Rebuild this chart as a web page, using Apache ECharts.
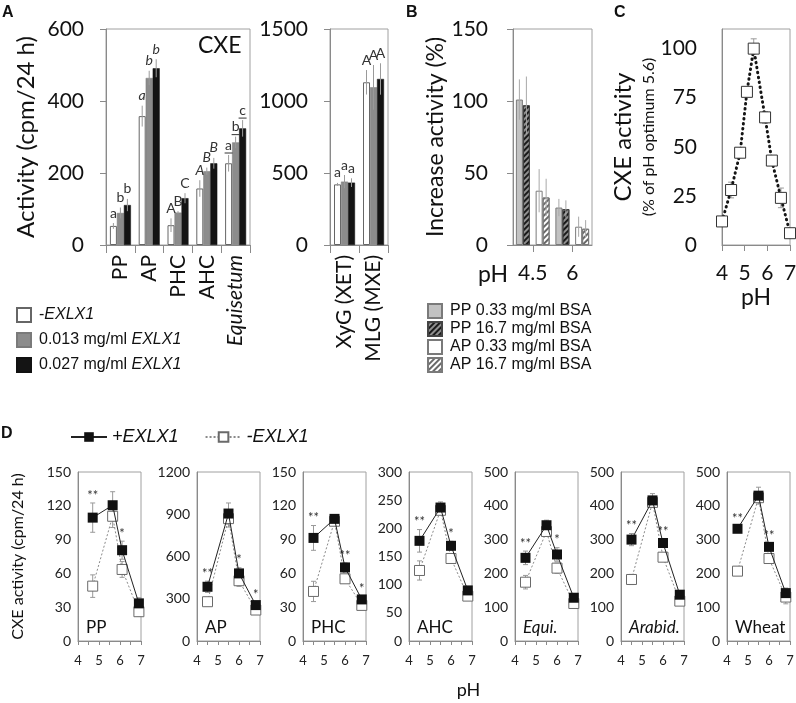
<!DOCTYPE html>
<html><head><meta charset="utf-8">
<script src="https://cdn.jsdelivr.net/npm/echarts@6/dist/echarts.min.js"></script>
<style>html,body{margin:0;padding:0;background:#fff}#c{width:796px;height:703px}</style>
</head><body><div id="c"></div>
<script>
// ---------------- DATA ----------------
// Panel A (left: CXE substrates, right: XET / MXE)
const aCats = ['PP', 'AP', 'PHC', 'AHC', 'Equisetum'];
const aCats2 = ['XyG (XET)', 'MLG (MXE)'];
const aNames = ['-EXLX1', '0.013 mg/ml EXLX1', '0.027 mg/ml EXLX1'];
const aNone = [53, 358, 55, 157, 227];
const aLow = [89, 464, 90, 205, 285];
const aHigh = [111, 491, 130, 227, 324];
const aNoneErr = [8, 29, 19, 23, 23];
const aLowErr = [15, 20, 4, 10, 16];
const aHighErr = [17, 25, 14, 15, 23];
const aNoneLet = ['a', 'a', 'A', 'A', 'a'];
const aLowLet = ['b', 'b', 'B', 'B', 'b'];
const aHighLet = ['b', 'b', 'C', 'B', 'c'];
const aLetStyle = ['normal', 'italic', 'normal', 'italic', 'underline'];
const a2None = [421, 1130];
const a2Low = [440, 1095];
const a2High = [433, 1153];
const a2NoneErr = [10, 85];
const a2LowErr = [46, 155];
const a2HighErr = [30, 109];
const a2NoneLet = ['a', 'A'];
const a2LowLet = ['a', 'A'];
const a2HighLet = ['a', 'A'];

// Panel B
const bNames = ['PP 0.33 mg/ml BSA', 'PP 16.7 mg/ml BSA', 'AP 0.33 mg/ml BSA', 'AP 16.7 mg/ml BSA'];
const bSlots = ['PP 4.5', 'AP 4.5', 'PP 6', 'AP 6'];
const bTickPos = [1, 3];
const bTickLabels = ['4.5', '6'];
const bPP033 = [101, 26];
const bPP167 = [97, 25];
const bAP033 = [37.7, 12.7];
const bAP167 = [33, 11.3];
const bPP033Err = [14, 6];
const bPP167Err = [20, 6];
const bAP033Err = [15, 7];
const bAP167Err = [13, 6];

// Panel C
const cPH = [4.0, 4.4, 4.8, 5.1, 5.4, 5.9, 6.2, 6.6, 7.0];
const cAct = [12, 28, 47, 78, 100, 65, 43, 24, 6];
const cErr = [1, 4, 1, 1, 5, 3, 1, 5, 1];

// Panel D
const dNames = ['PP', 'AP', 'PHC', 'AHC', 'Equi.', 'Arabid.', 'Wheat'];
const dItalic = [false, false, false, false, true, true, false];
const dYMax = [150, 1200, 150, 300, 500, 500, 500];
const dYStep = [30, 300, 30, 50, 100, 100, 100];
const dPH_PP = [4.7, 5.65, 6.1, 6.9];
const dPH = [4.5, 5.5, 6.0, 6.8];
const dPlus = [
  [109.5, 120.5, 80.6, 33.4],
  [385, 905, 480, 255],
  [91.5, 108.4, 65.3, 36.9],
  [177.8, 236.9, 169, 89.8],
  [246, 342.5, 256, 128],
  [300, 416, 290, 137],
  [332, 430, 278.5, 141.7]
];
const dPlusErr = [
  [13, 12, 8, 5], [40, 75, 40, 20], [11, 3, 4, 3], [20, 10, 8, 6],
  [20, 15, 20, 10], [18, 20, 10, 10], [8, 25, 10, 15]
];
const dMinus = [
  [48.7, 110.7, 63.5, 26],
  [279, 869, 428, 220],
  [44, 106.3, 55.2, 31.6],
  [125.2, 232, 146.5, 79.7],
  [174, 324, 215.6, 111],
  [182, 410, 248, 118],
  [206.7, 424, 244, 130]
];
const dMinusErr = [
  [10, 10, 7, 4], [30, 60, 40, 15], [9, 3, 3, 3], [17, 5, 8, 6],
  [20, 10, 15, 10], [15, 10, 10, 10], [8, 15, 10, 20]
];
const dSig = [
  ['**', '', '*', ''], ['**', '', '*', '*'], ['**', '', '**', '*'], ['**', '', '*', ''],
  ['**', '', '*', ''], ['**', '', '**', ''], ['**', '', '**', '']
];

// ---------------- LAYOUT / STYLE ----------------
const F = 'Lato, "Open Sans", "DejaVu Sans", sans-serif';
const AR = '"Liberation Sans", Arial, sans-serif';
const AX = '#8a8a8a';
const dLeft = [78, 197, 303, 409, 515, 621, 727];
const plain = v => String(v);

const grids = [
  {left: 106, top: 29, width: 144, height: 216},
  {left: 330, top: 29, width: 58, height: 216},
  {left: 513, top: 29, width: 79, height: 216},
  {left: 722, top: 29, width: 68, height: 216}
].concat(dLeft.map(l => ({left: l, top: 472, width: 63, height: 169})))
 .map(g => Object.assign({show: true, borderColor: '#a0a0a0', borderWidth: 1, backgroundColor: 'transparent', outerBoundsMode: 'none', containLabel: false}, g));

const axLine = {show: true, lineStyle: {color: AX, width: 1}};
const bigLabel = {fontSize: 21, fontFamily: F, color: '#111'};

function yAx(gi, min, max, interval, extra) {
  return Object.assign({
    gridIndex: gi, type: 'value', min, max, interval,
    axisLine: axLine,
    axisTick: {show: true, length: 6, lineStyle: {color: AX}},
    splitLine: {show: false},
    axisLabel: Object.assign({margin: 22, formatter: plain}, bigLabel)
  }, extra || {});
}

function errSeries(o) {
  const data = o.xs.map((x, i) => [x, o.ys[i], o.es[i]]);
  return {
    type: 'custom', xAxisIndex: o.x, yAxisIndex: o.y, z: o.z || 6, silent: true,
    data, encode: {x: 0, y: 1},
    renderItem(params, api) {
      const i = params.dataIndex;
      const xv = api.value(0), yv = api.value(1), ev = api.value(2);
      const top = api.coord([xv, yv + ev]);
      const bot = api.coord([xv, Math.max(0, yv - ev)]);
      const cx = top[0] + (o.dx || 0);
      const ch = [{type: 'line', shape: {x1: cx, y1: top[1], x2: cx, y2: bot[1]},
        style: {stroke: o.color || '#999', lineWidth: 1}}];
      if (o.cap) {
        ch.push({type: 'line', shape: {x1: cx - o.cap, y1: top[1], x2: cx + o.cap, y2: top[1]}, style: {stroke: o.color || '#999', lineWidth: 1}});
        ch.push({type: 'line', shape: {x1: cx - o.cap, y1: bot[1], x2: cx + o.cap, y2: bot[1]}, style: {stroke: o.color || '#999', lineWidth: 1}});
      }
      if (o.texts && o.texts[i]) {
        const st = o.styles ? o.styles[i] : 'normal';
        const ty = top[1] - (o.tgap || 2);
        ch.push({type: 'text', style: {
          text: o.texts[i], x: cx, y: ty, align: 'center', verticalAlign: 'bottom',
          fontSize: o.fs || 14, fontFamily: F, fontStyle: st === 'italic' ? 'italic' : 'normal',
          fill: '#333'}});
        if (st === 'underline') {
          ch.push({type: 'line', shape: {x1: cx - 4, y1: ty + 1, x2: cx + 4, y2: ty + 1}, style: {stroke: '#333', lineWidth: 1}});
        }
      }
      return {type: 'group', children: ch};
    }
  };
}

// ---------------- AXES ----------------
const xAxis = [
  {gridIndex: 0, type: 'category', data: aCats, axisLine: axLine,
   axisTick: {show: true, length: 8, interval: 0, lineStyle: {color: AX}},
   axisLabel: Object.assign({interval: 0, rotate: 90, margin: 10,
     formatter: v => v === 'Equisetum' ? '{i|' + v + '}' : v,
     rich: {i: {fontStyle: 'italic', fontSize: 21, fontFamily: F, color: '#111'}}}, bigLabel),
   splitLine: {show: false}},
  {gridIndex: 1, type: 'category', data: aCats2, axisLine: axLine,
   axisTick: {show: true, length: 8, interval: 0, lineStyle: {color: AX}},
   axisLabel: Object.assign({interval: 0, rotate: 90, margin: 10}, bigLabel),
   splitLine: {show: false}},
  {gridIndex: 2, type: 'category', data: bSlots, axisLine: axLine,
   axisTick: {show: false}, axisLabel: {show: false}, splitLine: {show: false}},
  {gridIndex: 2, type: 'value', min: 0, max: 4, interval: 1, position: 'bottom',
   axisLine: {show: false},
   axisTick: {show: true, length: 7, customValues: bTickPos, lineStyle: {color: AX}},
   axisLabel: Object.assign({customValues: bTickPos, margin: 18,
     formatter: v => {const k = bTickPos.indexOf(v); return k >= 0 ? bTickLabels[k] : '';}}, bigLabel),
   splitLine: {show: false},
   name: 'pH', nameLocation: 'start', nameGap: 5, nameMoveOverlap: false,
   nameTextStyle: {fontSize: 23, fontFamily: F, color: '#111', align: 'right', verticalAlign: 'top', lineHeight: 60}},
  {gridIndex: 3, type: 'value', min: 4, max: 7, interval: 1, axisLine: axLine,
   axisTick: {show: true, length: 6, lineStyle: {color: AX}},
   axisLabel: Object.assign({margin: 18, formatter: plain}, bigLabel), splitLine: {show: false},
   name: 'pH', nameLocation: 'middle', nameGap: 41,
   nameTextStyle: {fontSize: 23, fontFamily: F, color: '#111'}}
].concat(dLeft.map((l, i) => Object.assign({
  gridIndex: 4 + i, type: 'value', min: 4, max: 7, interval: 0.5, axisLine: axLine,
  axisTick: {show: true, length: 4, lineStyle: {color: AX}},
  axisLabel: {margin: 13, fontSize: 13, fontFamily: F, color: '#222',
    formatter: v => Number.isInteger(v) ? String(v) : ''},
  splitLine: {show: false}
}, i === 3 ? {name: 'pH', nameLocation: 'middle', nameGap: 40,
  nameTextStyle: {fontSize: 18, fontFamily: F, color: '#111', padding: [0, 0, 0, 56]}} : {})));

const yAxis = [
  yAx(0, 0, 600, 200, {name: 'Activity (cpm/24 h)', nameLocation: 'middle', nameGap: 68,
    nameTextStyle: {fontSize: 24, fontFamily: F, color: '#111'}}),
  yAx(1, 0, 1500, 500),
  yAx(2, 0, 150, 50, {name: 'Increase activity (%)', nameLocation: 'middle', nameGap: 66,
    nameTextStyle: {fontSize: 23, fontFamily: F, color: '#111'}, axisLabel: Object.assign({margin: 25, formatter: plain}, bigLabel)}),
  yAx(3, 0, 110, 25, {
    axisLabel: Object.assign({margin: 25, formatter: v => v <= 100 ? String(v) : ''}, bigLabel),
    axisTick: {show: false},
    name: '{a|CXE activity}\n{b|(% of pH optimum 5.6)}', nameLocation: 'middle', nameGap: 62,
    nameTextStyle: {rich: {
      a: {fontSize: 24, fontFamily: F, color: '#111', lineHeight: 28, align: 'center'},
      b: {fontSize: 16, fontFamily: F, color: '#111', lineHeight: 22, align: 'center'}}}})
].concat(dLeft.map((l, i) => yAx(4 + i, 0, dYMax[i], dYStep[i], Object.assign({
  axisTick: {show: false},
  axisLabel: {margin: 7, fontSize: 14, fontFamily: F, color: '#222', formatter: plain}
}, i === 0 ? {name: 'CXE activity (cpm/24 h)', nameLocation: 'middle', nameGap: 52,
  nameTextStyle: {fontSize: 16, fontFamily: F, color: '#111'}} : {}))));

// ---------------- SERIES ----------------
const series = [];
const aFill = ['#ffffff', '#8c8c8c', '#141414'];
const aBorder = ['#666666', '#7a7a7a', '#111111'];
const aV = [aNone, aLow, aHigh], aE = [aNoneErr, aLowErr, aHighErr], aL = [aNoneLet, aLowLet, aHighLet];
const a2V = [a2None, a2Low, a2High], a2E = [a2NoneErr, a2LowErr, a2HighErr], a2L = [a2NoneLet, a2LowLet, a2HighLet];
for (let k = 0; k < 3; k++) {
  const st = {color: aFill[k], borderColor: aBorder[k], borderWidth: k === 0 ? 1 : 0.5};
  series.push({type: 'bar', name: aNames[k], xAxisIndex: 0, yAxisIndex: 0, data: aV[k], barWidth: 7, barGap: '0%', itemStyle: st});
  series.push({type: 'bar', name: aNames[k], xAxisIndex: 1, yAxisIndex: 1, data: a2V[k], barWidth: 7, barGap: '0%', itemStyle: st});
  series.push(errSeries({x: 0, y: 0, xs: aCats.map((c, i) => i), ys: aV[k], es: aE[k], dx: (k - 1) * 7,
    color: '#9a9a9a', texts: aL[k], styles: aLetStyle, tgap: 3}));
  series.push(errSeries({x: 1, y: 1, xs: aCats2.map((c, i) => i), ys: a2V[k], es: a2E[k], dx: (k - 1) * 7,
    color: '#9a9a9a', texts: a2L[k], styles: ['normal', 'normal'], tgap: 3}));
}

// B
const hatchDark = {symbol: 'rect', symbolSize: 1, dashArrayX: [1, 0], dashArrayY: [1.2, 2], rotation: -Math.PI / 4, color: '#1a1a1a'};
const hatchLight = {symbol: 'rect', symbolSize: 1, dashArrayX: [1, 0], dashArrayY: [1.2, 2], rotation: -Math.PI / 4, color: '#6a6a6a'};
const bSpec = [
  {vals: bPP033, err: bPP033Err, parity: 0, stack: 'L', style: {color: '#c2c2c2', borderColor: '#7a7a7a', borderWidth: 1}},
  {vals: bPP167, err: bPP167Err, parity: 0, stack: 'R', style: {color: '#8f8f8f', borderColor: '#444', borderWidth: 1, decal: hatchDark}},
  {vals: bAP033, err: bAP033Err, parity: 1, stack: 'L', style: {color: '#ffffff', borderColor: '#7a7a7a', borderWidth: 1}},
  {vals: bAP167, err: bAP167Err, parity: 1, stack: 'R', style: {color: '#ffffff', borderColor: '#7a7a7a', borderWidth: 1, decal: hatchLight}}
];
bSpec.forEach((s, k) => {
  const data = bSlots.map((_, i) => (i % 2 === s.parity) ? s.vals[i >> 1] : '-');
  series.push({type: 'bar', name: bNames[k], xAxisIndex: 2, yAxisIndex: 2, stack: s.stack, data,
    barWidth: 7, barGap: '0%', itemStyle: s.style});
  series.push(errSeries({x: 2, y: 2, xs: s.vals.map((v, j) => j * 2 + s.parity), ys: s.vals, es: s.err,
    dx: s.stack === 'L' ? -3.5 : 3.5, color: '#a8a8a8'}));
});

// C
series.push({type: 'line', name: 'CXE pH profile', xAxisIndex: 4, yAxisIndex: 3,
  data: cPH.map((x, i) => [x, cAct[i]]), symbol: 'rect', symbolSize: 11, z: 4,
  itemStyle: {color: '#ffffff', borderColor: '#333', borderWidth: 1},
  lineStyle: {color: '#151515', width: 3, type: [0.5, 4.5], cap: 'round'}});
series.push(errSeries({x: 4, y: 3, xs: cPH, ys: cAct, es: cErr, cap: 3, color: '#999', z: 3}));

// D
for (let i = 0; i < 7; i++) {
  const xs = i === 0 ? dPH_PP : dPH;
  series.push(errSeries({x: 5 + i, y: 4 + i, xs, ys: dMinus[i], es: dMinusErr[i], cap: 2.5, color: '#999', z: 2}));
  series.push(errSeries({x: 5 + i, y: 4 + i, xs, ys: dPlus[i], es: dPlusErr[i], cap: 2.5, color: '#999', z: 2,
    texts: dSig[i], fs: 13, tgap: 1}));
  series.push({type: 'line', name: '-EXLX1 (D)', xAxisIndex: 5 + i, yAxisIndex: 4 + i,
    data: xs.map((x, j) => [x, dMinus[i][j]]), symbol: 'rect', symbolSize: 10, z: 3,
    itemStyle: {color: '#ffffff', borderColor: '#6a6a6a', borderWidth: 1},
    lineStyle: {color: '#8a8a8a', width: 1, type: [2, 2]}});
  series.push({type: 'line', name: '+EXLX1 (D)', xAxisIndex: 5 + i, yAxisIndex: 4 + i,
    data: xs.map((x, j) => [x, dPlus[i][j]]), symbol: 'rect', symbolSize: 10, z: 4,
    itemStyle: {color: '#111111'}, lineStyle: {color: '#222', width: 1}});
}

// ---------------- TITLES / LEGENDS ----------------
const panelLetter = (t, l, tp) => ({text: t, left: l, top: tp, padding: 0,
  textStyle: {fontSize: 16, fontWeight: 'bold', fontFamily: AR, color: '#111'}});
const title = [
  panelLetter('A', 2, 5), panelLetter('B', 406, 5), panelLetter('C', 614, 5), panelLetter('D', 1, 426),
  {text: 'CXE', left: 198, top: 34, padding: 0, textStyle: {fontSize: 23, fontWeight: 'normal', fontFamily: F, color: '#111'}}
].concat(dNames.map((n, i) => ({text: n, left: dLeft[i] + 8, top: 619, padding: 0,
  textStyle: {fontSize: 17, fontWeight: 'normal', fontStyle: dItalic[i] ? 'italic' : 'normal', fontFamily: F, color: '#111'}})));

const legend = [
  {data: aNames, orient: 'vertical', left: 16, top: 307, padding: 0, icon: 'rect', itemWidth: 14, itemHeight: 14, itemGap: 9,
   formatter: n => n.replace('EXLX1', '{i|EXLX1}'),
   textStyle: {fontSize: 16, fontFamily: AR, color: '#111', padding: [0, 0, 0, 3],
     rich: {i: {fontSize: 16, fontFamily: AR, fontStyle: 'italic', color: '#111'}}}},
  {data: bNames, orient: 'vertical', left: 427, top: 303, padding: 0, icon: 'rect', itemWidth: 14, itemHeight: 14, itemGap: 2,
   textStyle: {fontSize: 16, fontFamily: AR, color: '#111', padding: [0, 0, 0, 3]}},
  {data: ['+EXLX1 (D)', '-EXLX1 (D)'], orient: 'horizontal', left: 70, top: 428, padding: 0, itemWidth: 36, itemHeight: 12, itemGap: 26,
   formatter: n => n.replace(' (D)', ''),
   textStyle: {fontSize: 18, fontStyle: 'italic', fontFamily: AR, color: '#111'}}
];

const chart = echarts.init(document.getElementById('c'), null, {renderer: 'canvas'});
chart.setOption({
  animation: false, backgroundColor: '#ffffff',
  title, legend, grid: grids, xAxis, yAxis, series
});
</script></body></html>
